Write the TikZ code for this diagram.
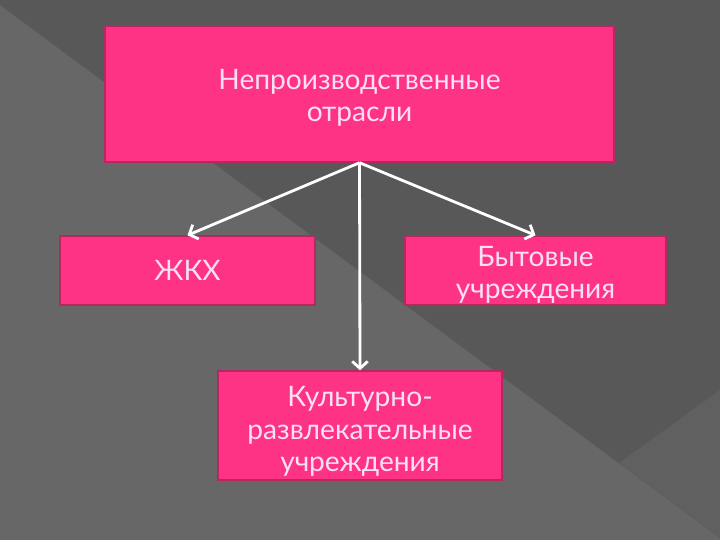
\documentclass[tikz,border=0pt]{standalone}
\usepackage{fontspec}
\setmainfont{Lato}
\usepackage{tikz}
\usetikzlibrary{arrows.meta}

\definecolor{bglight}{HTML}{676767}
\definecolor{bgdark}{HTML}{585858}
\definecolor{bgmid}{HTML}{606060}
\definecolor{boxpink}{HTML}{FF3386}
\definecolor{boxedge}{HTML}{B8285F}
\definecolor{boxtext}{HTML}{FBE0F2}

\tikzset{
  pinkbox/.style={draw=boxedge, line width=1pt, fill=boxpink, inner sep=0pt},
  boxlabel/.style={text=boxtext, align=center, inner sep=0pt, font=\fontsize{20}{23}\selectfont},
  linkarrow/.style={draw=white, line width=2pt, -{Straight Barb[length=5pt,width=11pt]}}
}

\begin{document}
\begin{tikzpicture}[x=0.025cm, y=-0.025cm]
      \fill [bglight] (0, 0) rectangle (720, 540);
      \fill [bgdark] (0, 0) -- (720, 0) -- (720, 538) -- (0, 5) -- cycle;
      \fill [bgmid] (720, 390) -- (720, 538) -- (619, 463) -- cycle;
      \useasboundingbox (0, 0) rectangle (720, 540);

      \node [pinkbox, minimum width=12.725cm, minimum height=3.4cm] (top) at (359.5, 94) {};
      \node [pinkbox, minimum width=6.375cm, minimum height=1.725cm] (zhkh) at (187.5, 270.5) {};
      \node [pinkbox, minimum width=6.525cm, minimum height=1.725cm] (byt) at (535.5, 270.5) {};
      \node [pinkbox, minimum width=7.1cm, minimum height=2.725cm] (kult) at (360, 425.5) {};

      \node [boxlabel, yshift=-0.1cm] (topl) at (top.center) {Непроизводственные\\ отрасли};
      \node [boxlabel] (zhkhl) at (zhkh.center) {ЖКХ};
      \node [boxlabel, yshift=-0.11cm] (bytl) at (byt.center) {Бытовые\\ учреждения};
      \node [boxlabel, yshift=-0.15cm] (kultl) at (kult.center) {Культурно-\\ развлекательные\\ учреждения};

      \draw [linkarrow] (top.south) -- (zhkh.north);
      \draw [linkarrow] (top.south) -- (byt.north);
      \draw [linkarrow] (top.south) -- (kult.north);
    \end{tikzpicture}
\end{document}
